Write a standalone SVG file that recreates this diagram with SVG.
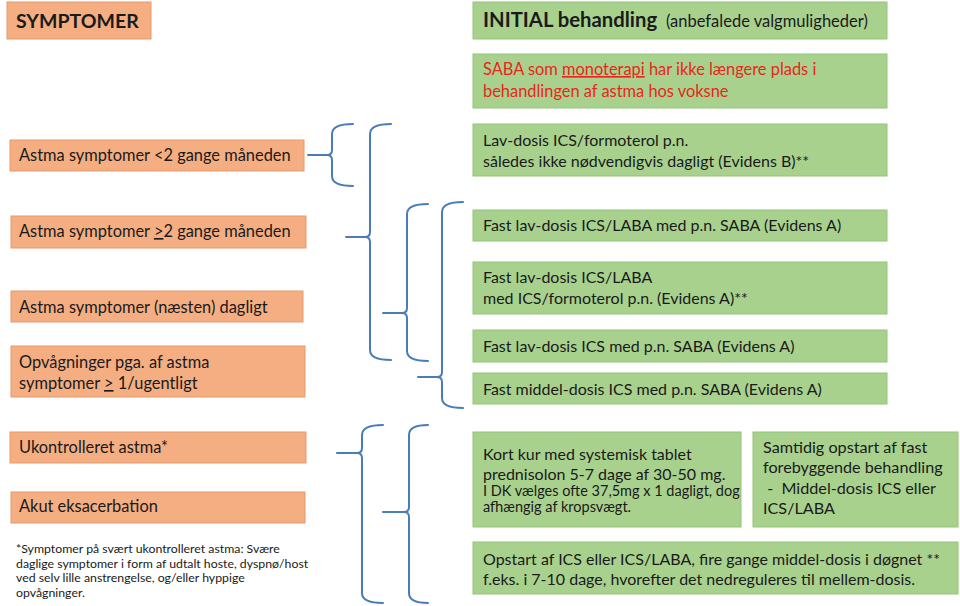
<svg xmlns="http://www.w3.org/2000/svg" width="960" height="606" viewBox="0 0 960 606">
<style>
.o{fill:#f4ae82;stroke:#e39a6e;stroke-width:1}
.g{fill:#a9d18e;stroke:#93c578;stroke-width:1}
text{font-family:Lato,"Liberation Sans",sans-serif;font-size:16px;fill:#1a1a1a}
.b{font-weight:bold}
.h{font-weight:bold;font-size:20.3px}
.p{font-size:16.5px}
.r{fill:#e8261c;font-size:16.4px}
.l{font-size:16.4px}
.s{font-size:14.5px}
.f{font-size:12.3px}
.m{font-size:16.2px}
.br{fill:none;stroke:#4a7cb8;stroke-width:2;stroke-linecap:round;stroke-linejoin:round}
</style>
<rect width="960" height="606" fill="#ffffff"/>
<g id="symptomer"><rect class="o" x="7" y="2" width="144" height="37"/><text class="b" x="16" y="28" style="font-size:19.5px">SYMPTOMER</text></g>
<g id="s1"><rect class="o" x="10" y="140" width="294" height="31"/><text class="l" x="19" y="161">Astma symptomer &lt;2 gange måneden</text></g>
<g id="s2"><rect class="o" x="11" y="216" width="295" height="32"/><text class="l" x="19" y="237">Astma symptomer <tspan text-decoration="underline">&gt;</tspan>2 gange måneden</text></g>
<g id="s3"><rect class="o" x="11" y="291" width="292" height="31"/><text class="l" x="19" y="313">Astma symptomer (næsten) dagligt</text></g>
<g id="s4"><rect class="o" x="11" y="346" width="294" height="51"/><text class="l" x="19" y="368">Opvågninger pga. af astma</text><text class="l" x="19" y="389">symptomer <tspan text-decoration="underline">&gt;</tspan> 1/ugentligt</text></g>
<g id="s5"><rect class="o" x="10" y="432" width="296" height="31"/><text class="l" x="19" y="453">Ukontrolleret astma*</text></g>
<g id="s6"><rect class="o" x="11" y="492" width="294" height="31"/><text class="l" x="19" y="512">Akut eksacerbation</text></g>
<g id="footnote"><text class="f" x="16" y="553">*Symptomer på svært ukontrolleret astma: Svære</text><text class="f" x="16" y="567.5">daglige symptomer i form af udtalt hoste, dyspnø/host</text><text class="f" x="16" y="582">ved selv lille anstrengelse, og/eller hyppige</text><text class="f" x="16" y="596.5">opvågninger.</text></g>
<g id="initial"><rect class="g" x="473" y="2" width="414" height="37"/><text class="h" x="483" y="27">INITIAL behandling</text><text class="p" x="666" y="27">(anbefalede valgmuligheder)</text></g>
<g id="saba"><rect class="g" x="473" y="54" width="414" height="54"/><text class="r" x="483" y="75">SABA som <tspan text-decoration="underline">monoterapi</tspan> har ikke længere plads i</text><text class="r" x="483" y="97">behandlingen af astma hos voksne</text></g>
<g id="t1"><rect class="g" x="473" y="124" width="414" height="52"/><text x="483" y="146">Lav-dosis ICS/formoterol p.n.</text><text x="483" y="167">således ikke nødvendigvis dagligt (Evidens B)**</text></g>
<g id="t2"><rect class="g" x="473" y="210" width="414" height="31"/><text x="483" y="231">Fast lav-dosis ICS/LABA med p.n. SABA (Evidens A)</text></g>
<g id="t3"><rect class="g" x="473" y="262" width="414" height="52"/><text x="483" y="283">Fast lav-dosis ICS/LABA</text><text x="483" y="304">med ICS/formoterol p.n. (Evidens A)**</text></g>
<g id="t4"><rect class="g" x="473" y="330" width="414" height="32"/><text x="483" y="352">Fast lav-dosis ICS med p.n. SABA (Evidens A)</text></g>
<g id="t5"><rect class="g" x="473" y="373" width="414" height="31"/><text x="483" y="395">Fast middel-dosis ICS med p.n. SABA (Evidens A)</text></g>
<g id="t6"><rect class="g" x="473" y="432" width="268" height="95"/><text x="483" y="460">Kort kur med systemisk tablet</text><text x="483" y="480">prednisolon 5-7 dage af 30-50 mg.</text><text class="s" x="483" y="496">I DK vælges ofte 37,5mg x 1 dagligt, dog</text><text class="s" x="483" y="512">afhængig af kropsvægt.</text></g>
<g id="t7"><rect class="g" x="753" y="432" width="205" height="95"/><text class="m" x="763" y="453">Samtidig opstart af fast</text><text class="m" x="763" y="473">forebyggende behandling</text><text class="m" x="763" y="494" xml:space="preserve"> -  Middel-dosis ICS eller</text><text class="m" x="763" y="514">ICS/LABA</text></g>
<g id="t8"><rect class="g" x="473" y="542" width="485" height="52"/><text x="483" y="565">Opstart af ICS eller ICS/LABA, fire gange middel-dosis i døgnet **</text><text x="483" y="585">f.eks. i 7-10 dage, hvorefter det nedreguleres til mellem-dosis.</text></g>
<g id="connectors">
<path class="br" d="M353,124 Q332,124 332,134 V150 Q332,155 327,155 M327,155 Q332,155 332,160 V176 Q332,186 353,186 M308,155 H327"/>
<path class="br" d="M391,124 Q370,124 370,134 V232 Q370,237 365,237 M365,237 Q370,237 370,242 V350 Q370,360 391,360 M346,237 H365"/>
<path class="br" d="M428,204 Q407,204 407,214 V308 Q407,313 402,313 M402,313 Q407,313 407,318 V351 Q407,361 428,361 M383,313 H402"/>
<path class="br" d="M463,202 Q442,202 442,212 V372 Q442,377 437,377 M437,377 Q442,377 442,382 V398 Q442,408 463,408 M418,377 H437"/>
<path class="br" d="M383,425 Q362,425 362,435 V448 Q362,453 357,453 M357,453 Q362,453 362,458 V593 Q362,603 383,603 M337,453 H357"/>
<path class="br" d="M428,425 Q409,425 409,435 V507 Q409,512 404,512 M404,512 Q409,512 409,517 V593 Q409,603 428,603 M383,512 H404"/>
</g>
</svg>
